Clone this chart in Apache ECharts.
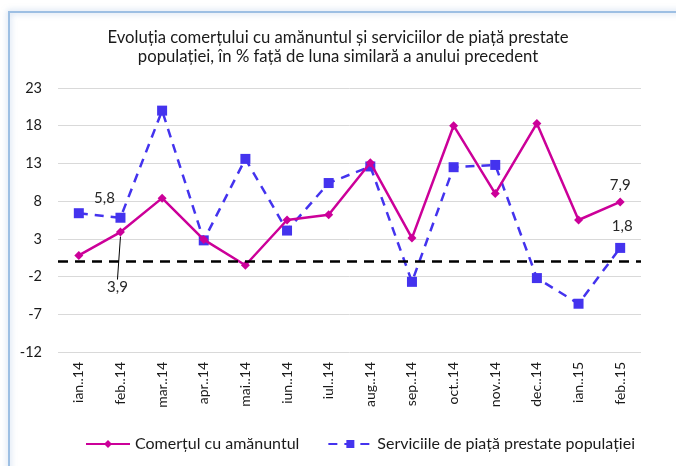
<!DOCTYPE html>
<html>
<head>
<meta charset="utf-8">
<script src="https://cdn.jsdelivr.net/npm/echarts@6/dist/echarts.min.js"></script>
<style>
    html, body { margin: 0; padding: 0; background: #fff; }
    #chart { width: 676px; height: 466px; }
</style>
</head>
<body>
<div id="chart"></div>
<script>
var months = ['ian..14', 'feb..14', 'mar..14', 'apr..14', 'mai..14', 'iun..14', 'iul..14',
    'aug..14', 'sep..14', 'oct..14', 'nov..14', 'dec..14', 'ian..15', 'feb..15'];
var comert = [0.8, 3.9, 8.4, 2.9, -0.5, 5.5, 6.2, 13.1, 3.1, 18.0, 9.0, 18.3, 5.5, 7.9];
var servicii = [6.4, 5.8, 20.0, 2.8, 13.6, 4.1, 10.4, 12.6, -2.7, 12.5, 12.8, -2.2, -5.6, 1.8];
var yTicks = [-12, -7, -2, 3, 8, 13, 18, 23];

// which points get a value label
var comertLabels = [1, 13];
var serviciiLabels = [1, 13];

function fmt(v) {
    return String(v.toFixed(1)).replace('.', ',');
}

var myChart = echarts.init(document.getElementById('chart'));

var comertData = comert.map(function (v, i) {
    if (i === 1) {
        return {
            value: v,
            label: {show: true, position: 'bottom'},
            labelLine: {show: true, lineStyle: {color: '#000', width: 1}}
        };
    }
    if (comertLabels.indexOf(i) >= 0) {
        return {value: v, label: {show: true, position: 'top', offset: [-4, -4]}};
    }
    return v;
});

var serviciiData = servicii.map(function (v, i) {
    if (i === 1) {
        return {value: v, label: {show: true, position: 'top', offset: [-16, -2]}};
    }
    if (serviciiLabels.indexOf(i) >= 0) {
        return {value: v, label: {show: true, position: 'top', offset: [2, -4]}};
    }
    return v;
});

var option = {
    backgroundColor: '#fff',
    textStyle: {fontFamily: 'Lato'},
    title: {
        text: 'Evoluția comerțului cu amănuntul și serviciilor de piață prestate\npopulației, în % față de luna similară a anului precedent',
        left: 'center',
        top: 23,
        textStyle: {
            fontFamily: 'Lato',
            fontSize: 16.7,
            fontWeight: 'normal',
            color: '#1a1a1a',
            lineHeight: 19
        }
    },
    graphic: [{
        type: 'rect',
        shape: {x: 9, y: 12, width: 800, height: 600},
        style: {
            fill: 'none',
            stroke: '#9dbfe3',
            lineWidth: 2,
            shadowBlur: 6,
            shadowColor: 'rgba(120,160,210,0.6)'
        },
        z: -1
    }],
    grid: {
        left: 58,
        right: 35,
        top: 88,
        bottom: 114
    },
    legend: {
        bottom: 9,
        left: 80,
        itemGap: 28,
        itemWidth: 44,
        itemHeight: 10,
        textStyle: {fontSize: 16, color: '#1a1a1a', fontFamily: 'Lato'},
        data: ['Comerțul cu amănuntul', 'Serviciile de piață prestate populației']
    },
    xAxis: {
        type: 'category',
        data: months,
        boundaryGap: true,
        axisLine: {show: false, onZero: false},
        axisTick: {show: false},
        axisLabel: {
            rotate: 90,
            fontSize: 14,
            color: '#1a1a1a',
            margin: 10,
            interval: 0
        }
    },
    yAxis: {
        type: 'value',
        min: -12,
        max: 23,
        interval: 5,
        axisLine: {show: false},
        axisTick: {show: false},
        axisLabel: {
            fontSize: 14.5,
            color: '#1a1a1a',
            margin: 16,
            customValues: yTicks
        },
        splitLine: {lineStyle: {color: '#d9d9d9', width: 1}}
    },
    series: [
        {
            name: 'Comerțul cu amănuntul',
            type: 'line',
            data: comertData,
            color: '#cc0099',
            symbol: 'diamond',
            symbolSize: 9,
            lineStyle: {width: 2.5, color: '#cc0099'},
            itemStyle: {color: '#cc0099'},
            label: {fontSize: 15, color: '#262626', formatter: function (p) { return fmt(p.value); }},
            labelLayout: function (params) {
                if (params.dataIndex === 1) {
                    return {dy: 38, dx: -3};
                }
                return {};
            },
            z: 3,
            markLine: {
                silent: true,
                symbol: 'none',
                label: {show: false},
                lineStyle: {color: '#000', type: [10, 7], width: 2.5},
                data: [{yAxis: 0}]
            }
        },
        {
            name: 'Serviciile de piață prestate populației',
            type: 'line',
            data: serviciiData,
            color: '#4433ee',
            symbol: 'rect',
            symbolSize: 10,
            lineStyle: {width: 2.5, type: [9, 7], color: '#4433ee'},
            itemStyle: {color: '#4433ee'},
            label: {fontSize: 15, color: '#262626', formatter: function (p) { return fmt(p.value); }},
            z: 2
        }
    ]
};

myChart.setOption(option);
</script>
</body>
</html>
